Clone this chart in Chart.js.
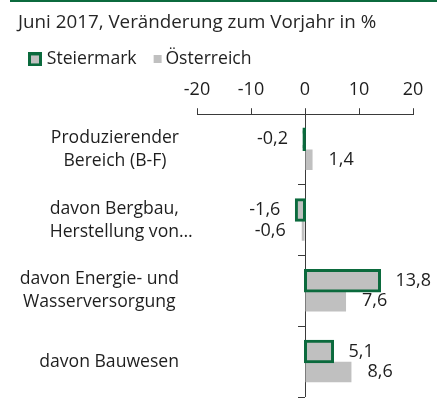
<!DOCTYPE html>
<html>
<head>
<meta charset="utf-8">
<script src="https://cdn.jsdelivr.net/npm/chart.js@4.4.0/dist/chart.umd.min.js"></script>
<style>
  html, body { margin: 0; padding: 0; background: #ffffff; }
  #wrap { width: 445px; height: 403px; position: relative; }
</style>
</head>
<body>
<div id="wrap"><canvas id="c" width="445" height="403"></canvas></div>
<script>
// ---- data ----
const titleText = 'Juni 2017, Veränderung zum Vorjahr in %';
const categories = [
  ['Produzierender', 'Bereich (B-F)'],
  ['davon Bergbau,', 'Herstellung von…'],
  ['davon Energie- und', 'Wasserversorgung'],
  ['davon Bauwesen']
];
const seriesNames = ['Steiermark', 'Österreich'];
const steiermark = [-0.2, -1.6, 13.8, 5.1];
const oesterreich = [1.4, -0.6, 7.6, 8.6];
const xTickValues = [-20, -10, 0, 10, 20];

// ---- styles ----
const GREEN = '#0b6a3d';
const GRAY = '#c0c0c0';
const AXIS = '#3a3a3a';
const TEXT = '#1e1e1e';
const FONT = "'Open Sans', sans-serif";
Chart.defaults.font.family = FONT;
Chart.defaults.font.size = 18;
Chart.defaults.color = TEXT;

function fmt(v) { return v.toFixed(1).replace('.', ','); }

function markerSteiermark() {
  const c = document.createElement('canvas');
  c.width = 18; c.height = 14;
  const g = c.getContext('2d');
  g.fillStyle = GREEN; g.fillRect(4, 0, 14, 14);
  g.fillStyle = GRAY; g.fillRect(7, 3, 8, 8);
  return c;
}
function markerOesterreich() {
  const c = document.createElement('canvas');
  c.width = 24; c.height = 8;
  const g = c.getContext('2d');
  g.fillStyle = GRAY; g.fillRect(14, 0, 8, 8);
  return c;
}
const markers = [markerSteiermark(), markerOesterreich()];

const topLine = {
  id: 'topLine',
  beforeDraw(chart) {
    const ctx = chart.ctx;
    ctx.save();
    ctx.fillStyle = GREEN;
    ctx.fillRect(10, 0, 427, 2);
    ctx.restore();
  }
};

const catLabels = {
  id: 'catLabels',
  afterDraw(chart) {
    const { ctx, chartArea } = chart;
    const y = chart.scales.y;
    ctx.save();
    ctx.font = '17.6px ' + FONT;
    ctx.fillStyle = TEXT;
    ctx.textBaseline = 'middle';
    ctx.textAlign = 'left';
    const right = chartArea.left - 18;
    const lh = 23;
    categories.forEach((lines, i) => {
      const arr = Array.isArray(lines) ? lines : [lines];
      const core = arr.map(s => s.replace(/…$/, ''));
      const w = Math.max(...core.map(s => ctx.measureText(s).width));
      const cx = right - w / 2;
      const cy = y.getPixelForValue(i);
      arr.forEach((s, k) => {
        const yy = cy + (k - (arr.length - 1) / 2) * lh;
        const cw = ctx.measureText(core[k]).width;
        ctx.fillText(s, cx - cw / 2, yy);
      });
    });
    ctx.restore();
  }
};

const valueLabels = {
  id: 'valueLabels',
  afterDatasetsDraw(chart) {
    const ctx = chart.ctx;
    ctx.save();
    ctx.font = '18px ' + FONT;
    ctx.fillStyle = TEXT;
    ctx.textBaseline = 'middle';
    chart.data.datasets.forEach((ds, di) => {
      const meta = chart.getDatasetMeta(di);
      meta.data.forEach((bar, i) => {
        const v = ds.data[i];
        ctx.textAlign = v < 0 ? 'right' : 'left';
        ctx.fillText(fmt(v), bar.x + (v < 0 ? -16 : 16), bar.y);
      });
    });
    ctx.restore();
  }
};

new Chart(document.getElementById('c'), {
  type: 'bar',
  data: {
    labels: categories,
    datasets: [
      {
        label: seriesNames[0],
        data: steiermark,
        backgroundColor: (ctx) => (ctx.raw !== undefined && Math.abs(ctx.raw) < 0.5) ? GREEN : GRAY,
        borderColor: GREEN,
        borderWidth: 3,
        borderSkipped: false,
        inflateAmount: 1.5,
        categoryPercentage: 0.58,
        barPercentage: 1.0
      },
      {
        label: seriesNames[1],
        data: oesterreich,
        backgroundColor: GRAY,
        borderWidth: 0,
        inflateAmount: 0,
        categoryPercentage: 0.58,
        barPercentage: 1.0
      }
    ]
  },
  options: {
    indexAxis: 'y',
    responsive: false,
    animation: false,
    devicePixelRatio: 1,
    layout: { padding: { left: 18, right: 32, top: 0, bottom: 6 } },
    plugins: {
      title: {
        display: true,
        text: titleText,
        align: 'start',
        color: '#262626',
        font: { size: 18.8, weight: 'normal', family: FONT, lineHeight: 1.15 },
        padding: { top: 12, bottom: 7 }
      },
      legend: {
        display: true,
        position: 'top',
        align: 'start',
        labels: {
          usePointStyle: true,
          boxWidth: 10,
          boxHeight: 14,
          padding: 10,
          font: { size: 17.6, family: FONT },
          color: TEXT,
          generateLabels(chart) {
            return chart.data.datasets.map((ds, i) => ({
              text: ds.label,
              pointStyle: markers[i],
              fillStyle: GRAY,
              strokeStyle: GREEN,
              lineWidth: 0,
              hidden: false,
              datasetIndex: i,
              fontColor: TEXT
            }));
          }
        }
      },
      tooltip: { enabled: false }
    },
    scales: {
      x: {
        type: 'linear',
        position: 'top',
        min: xTickValues[0],
        max: xTickValues[xTickValues.length - 1],
        afterBuildTicks(s) { s.ticks = xTickValues.map(v => ({ value: v })); },
        afterFit(s) { s.height = 36; },
        ticks: {
          padding: 8,
          color: TEXT,
          font: { size: 18, family: FONT },
          callback: (v) => String(v)
        },
        grid: {
          display: true,
          drawOnChartArea: true,
          drawTicks: true,
          tickLength: 6,
          lineWidth: 1,
          color: (ctx) => (ctx.tick && ctx.tick.value === 0) ? AXIS : 'rgba(0,0,0,0)',
          tickColor: AXIS
        },
        border: { display: true, color: AXIS, width: 1 }
      },
      y: {
        type: 'category',
        position: 'left',
        offset: true,
        afterFit(s) { s.width = 179; },
        ticks: { display: false },
        grid: { display: false },
        border: { display: false }
      },
      y2: {
        type: 'category',
        axis: 'y',
        position: { x: 0 },
        offset: true,
        afterFit(s) { s.width = 0; },
        ticks: { display: false },
        grid: {
          display: true,
          offset: true,
          drawOnChartArea: false,
          drawTicks: true,
          tickLength: 7,
          color: AXIS,
          tickColor: AXIS,
          lineWidth: 1
        },
        border: { display: false }
      }
    }
  },
  plugins: [topLine, catLabels, valueLabels]
});
</script>
</body>
</html>
